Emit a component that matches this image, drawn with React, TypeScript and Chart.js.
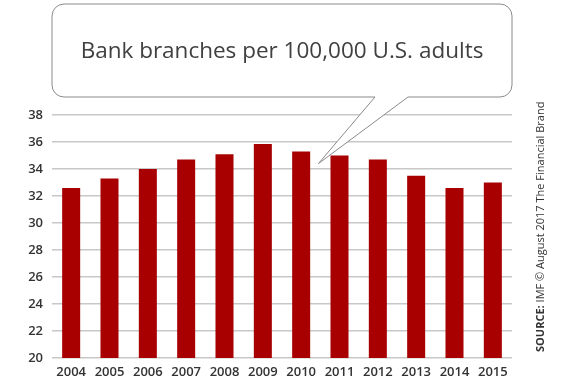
import React, { useEffect, useRef } from "react";
import { Chart, registerables } from "chart.js";

Chart.register(...registerables);

const years = ["2004", "2005", "2006", "2007", "2008", "2009", "2010", "2011", "2012", "2013", "2014", "2015"];
const branches = [32.6, 33.3, 34.0, 34.7, 35.1, 35.85, 35.3, 35.0, 34.7, 33.5, 32.6, 33.0];
const titleText = "Bank branches per 100,000 U.S. adults";
const sourceBold = "SOURCE:";
const sourceRest = " IMF \u00A9 August 2017 The Financial Brand";
const calloutIndex = 6.45;
const calloutValue = 34.4;

const calloutPlugin = {
  id: "callout",
  afterDraw(chart: any) {
    const ctx = chart.ctx as CanvasRenderingContext2D;
    const xs = chart.scales.x;
    const ys = chart.scales.y;
    const tipX = xs.getPixelForValue(calloutIndex);
    const tipY = ys.getPixelForValue(calloutValue);
    const l = 52, t = 4, r = 512, b = 97, rad = 12;
    const t1 = 375, t2 = 408;
    ctx.save();
    ctx.beginPath();
    ctx.moveTo(l + rad, t);
    ctx.lineTo(r - rad, t);
    ctx.arcTo(r, t, r, t + rad, rad);
    ctx.lineTo(r, b - rad);
    ctx.arcTo(r, b, r - rad, b, rad);
    ctx.lineTo(t2, b);
    ctx.lineTo(tipX, tipY);
    ctx.lineTo(t1, b);
    ctx.lineTo(l + rad, b);
    ctx.arcTo(l, b, l, b - rad, rad);
    ctx.lineTo(l, t + rad);
    ctx.arcTo(l, t, l + rad, t, rad);
    ctx.closePath();
    ctx.fillStyle = "#ffffff";
    ctx.fill();
    ctx.strokeStyle = "#8a8a8a";
    ctx.lineWidth = 1;
    ctx.stroke();

    ctx.fillStyle = "#404040";
    ctx.font = "400 22.5px 'Open Sans'";
    ctx.textAlign = "center";
    ctx.textBaseline = "middle";
    ctx.fillText(titleText, 282, 52);

    // source text rotated
    ctx.translate(541, 352);
    ctx.rotate(-Math.PI / 2);
    ctx.textAlign = "left";
    ctx.textBaseline = "middle";
    ctx.font = "700 11px 'Open Sans'";
    ctx.fillStyle = "#333333";
    ctx.fillText(sourceBold, 0, 0);
    const w = ctx.measureText(sourceBold).width;
    ctx.font = "400 11px 'Open Sans'";
    ctx.fillText(sourceRest, w, 0);
    ctx.restore();
  },
};

export default function App() {
  const ref = useRef<HTMLCanvasElement>(null);
  useEffect(() => {
    document.body.style.margin = "0";
    const chart = new Chart(ref.current!, {
      type: "bar",
      data: {
        labels: years,
        datasets: [
          {
            data: branches,
            backgroundColor: "#a80000",
            borderWidth: 0,
            barPercentage: 0.47,
            categoryPercentage: 1,
          },
        ],
      },
      options: {
        responsive: false,
        animation: false,
        layout: { padding: { top: 115, right: 53, left: 0, bottom: 0 } },
        plugins: { legend: { display: false }, tooltip: { enabled: false } },
        scales: {
          x: {
            grid: { display: false, drawTicks: false },
            border: { display: false },
            ticks: { color: "#333333", font: { family: "'Open Sans'", size: 13, weight: 600 }, padding: 6 },
            afterFit(scale: any) { scale.height = 24; },
          },
          y: {
            min: 20,
            max: 38,
            ticks: { stepSize: 2, color: "#333333", font: { family: "'Open Sans'", size: 13, weight: 600 }, padding: 9 },
            grid: { color: "#c8c8c8", lineWidth: 1.5, drawTicks: false },
            border: { display: false },
            afterFit(scale: any) { scale.width = 52; },
          },
        },
      },
      plugins: [calloutPlugin],
    });
    return () => chart.destroy();
  }, []);
  return <canvas ref={ref} width={565} height={382} style={{ display: "block" }} />;
}
